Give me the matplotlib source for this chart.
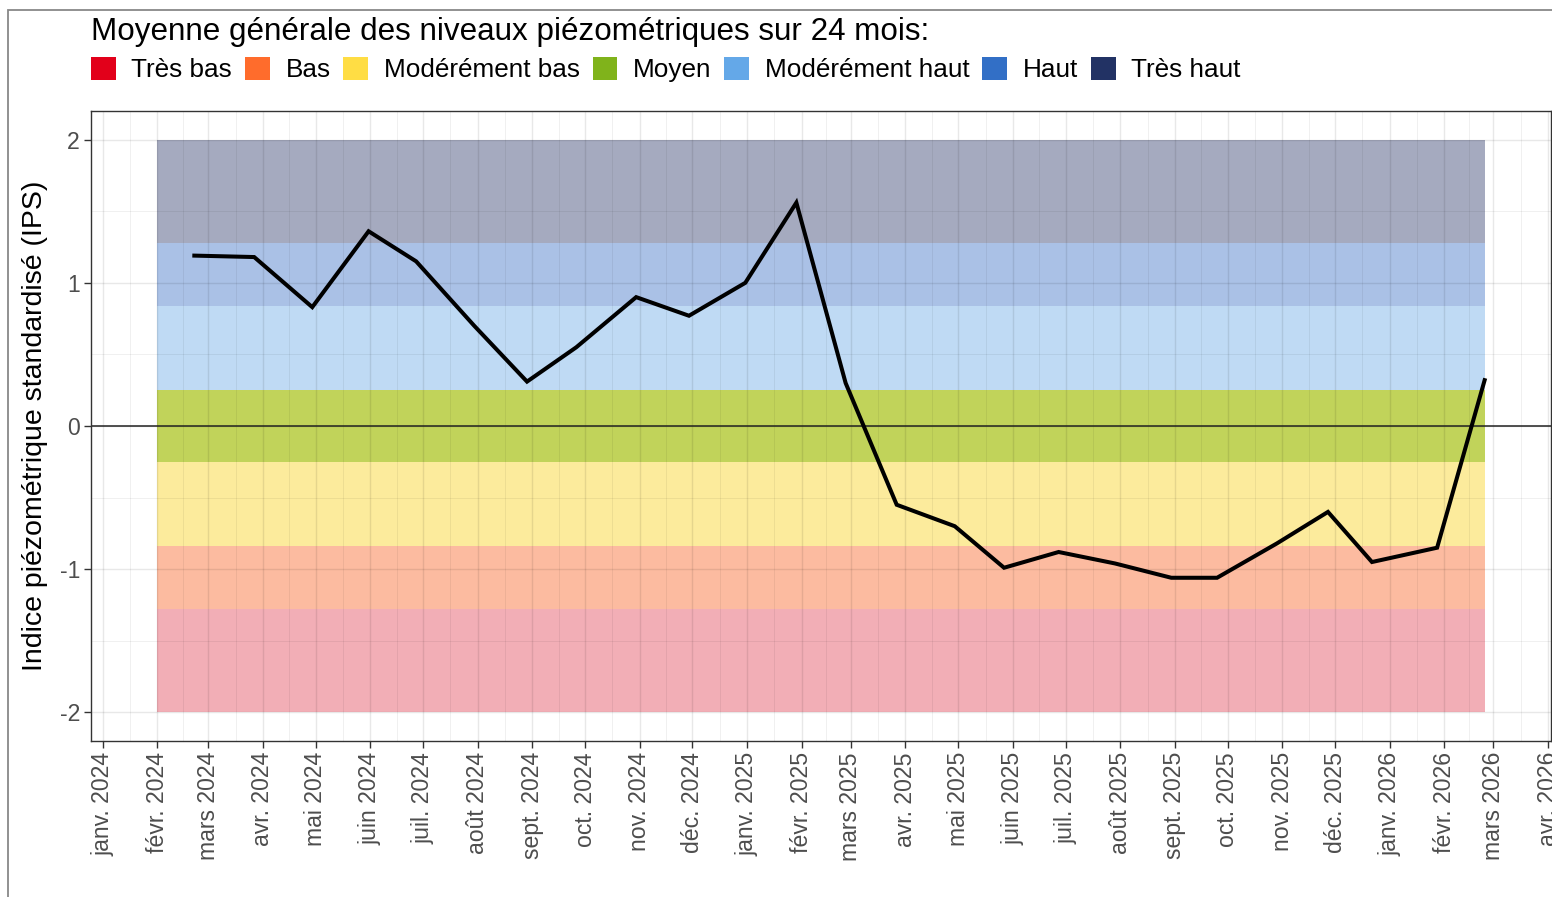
import datetime as dt

import numpy as np
import matplotlib
matplotlib.use('Agg')
import matplotlib.pyplot as plt
import matplotlib.dates as mdates
from matplotlib.patches import Patch, Rectangle

plt.rcParams['font.family'] = ['Liberation Sans', 'DejaVu Sans']

# IPS moyen mensuel
dates = [
    dt.date(2024, 2, 22), dt.date(2024, 3, 27), dt.date(2024, 4, 29), dt.date(2024, 5, 31),
    dt.date(2024, 6, 27), dt.date(2024, 7, 30), dt.date(2024, 8, 29), dt.date(2024, 9, 26),
    dt.date(2024, 10, 30), dt.date(2024, 11, 29), dt.date(2024, 12, 31), dt.date(2025, 1, 29),
    dt.date(2025, 2, 26), dt.date(2025, 3, 27), dt.date(2025, 4, 29), dt.date(2025, 5, 27),
    dt.date(2025, 6, 27), dt.date(2025, 7, 29), dt.date(2025, 8, 30), dt.date(2025, 9, 25),
    dt.date(2025, 10, 29), dt.date(2025, 11, 27), dt.date(2025, 12, 22), dt.date(2026, 1, 28),
    dt.date(2026, 2, 24),
]
ips = [1.19, 1.18, 0.83, 1.36, 1.15, 0.70, 0.31, 0.55, 0.90, 0.77, 1.00, 1.56,
       0.30, -0.55, -0.70, -0.99, -0.88, -0.96, -1.06, -1.06, -0.82, -0.60,
       -0.95, -0.85, 0.32]

# classes IPS
classes = ['Très bas', 'Bas', 'Modérément bas', 'Moyen', 'Modérément haut', 'Haut', 'Très haut']
bornes = [-2, -1.28, -0.84, -0.25, 0.25, 0.84, 1.28, 2]
couleurs = ['#E2001A', '#FF6C2C', '#FFDD44', '#80B31B', '#64A8E8', '#326FC6', '#223264']
couleurs_fond = ['#F2AEB6', '#FCBBA0', '#FCEB9C', '#C1D35A', '#BFDAF4', '#AAC1E6', '#A5AABF']
debut_bandes = dt.date(2024, 2, 1)
fin_bandes = dt.date(2026, 2, 24)

mois = ['janv.', 'févr.', 'mars', 'avr.', 'mai', 'juin', 'juil.', 'août',
        'sept.', 'oct.', 'nov.', 'déc.']
ticks = [dt.date(2024 + i // 12, i % 12 + 1, 1) for i in range(28)]
tick_labels = [f"{mois[d.month - 1]} {d.year}" for d in ticks]

W, H = 1552, 897
fig = plt.figure(figsize=(W / 100, H / 100), dpi=100)
ax = fig.add_axes([91 / W, (H - 741) / H, 1460 / W, 630 / H])

for lo, hi, c in zip(bornes[:-1], bornes[1:], couleurs_fond):
    ax.fill_between([debut_bandes, fin_bandes], lo, hi, color=c, lw=0, zorder=0.1)

ax.axhline(0, color='#222222', lw=1.1, zorder=2)
ax.plot(dates, ips, color='black', lw=2.9, zorder=3, solid_joinstyle='miter')

# echelle x (expansion 5 % comme ggplot)
x0 = mdates.date2num(debut_bandes)
x1 = mdates.date2num(fin_bandes)
ax.set_xlim(x0 - 0.05 * (x1 - x0), x1 + 0.05 * (x1 - x0))
tnum = mdates.date2num(ticks)
ax.set_xticks(tnum)
ax.set_xticklabels(tick_labels, rotation=90, fontsize=16.6, color='#4D4D4D')
ax.set_xticks((tnum[:-1] + tnum[1:]) / 2, minor=True)

ax.set_ylim(-2.2, 2.2)
ax.set_yticks([-2, -1, 0, 1, 2])
ax.set_yticklabels(['-2', '-1', '0', '1', '2'], fontsize=16.6, color='#4D4D4D')
ax.set_yticks([-1.5, -0.5, 0.5, 1.5], minor=True)
ax.set_ylabel('Indice piézométrique standardisé (IPS)', fontsize=20.5, labelpad=8)

ax.set_axisbelow(True)
ax.grid(which='major', color='black', alpha=0.09, lw=1.0)
ax.grid(which='minor', color='black', alpha=0.07, lw=0.6)
ax.tick_params(which='major', length=5, width=1.0, color='#333333', pad=3)
ax.tick_params(which='minor', length=0)
for s in ax.spines.values():
    s.set_color('#333333')
    s.set_linewidth(1.0)

fig.text(91 / W, 1 - 40 / H, 'Moyenne générale des niveaux piézométriques sur 24 mois:',
         fontsize=22.6, va='baseline', ha='left')
handles = [Patch(facecolor=c, edgecolor='none') for c in couleurs]
fig.legend(handles, classes, ncol=7, loc='upper left', frameon=False,
           bbox_to_anchor=(91 / W, 1 - 57 / H), borderaxespad=0, borderpad=0,
           fontsize=18.8, handlelength=0.95, handleheight=0.95, handletextpad=0.6,
           columnspacing=0.49)

fig.patches.append(Rectangle((8 / W, -0.1), 2, 1.1 - 10 / H, transform=fig.transFigure,
                             fill=False, edgecolor='#888888', lw=1.3))

fig.savefig('out.png', dpi=100)
